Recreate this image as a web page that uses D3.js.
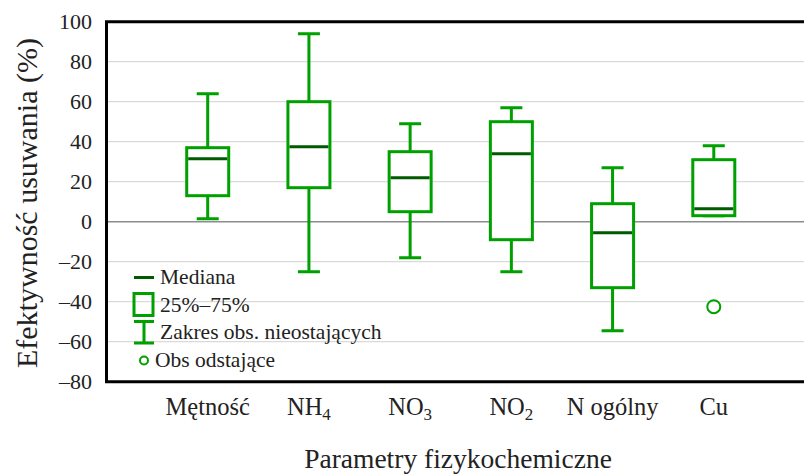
<!DOCTYPE html>
<html>
<head>
<meta charset="utf-8">
<script src="https://cdn.jsdelivr.net/npm/d3@7"></script>
<style>
body { margin: 0; background: #fff; }
text { font-family: "Liberation Serif", "Times New Roman", serif; fill: #222; }
</style>
</head>
<body>
<div id="chart"></div>
<script>
var width = 804,
	height = 476;

// data
var categories = ["Mętność", "NH4", "NO3", "NO2", "N ogólny", "Cu"];
var whiskerLow = [1.5, -25, -18, -25, -54.5, 3];
var q1 = [13, 17, 5, -9, -33, 3];
var median = [31.5, 37.5, 22, 34, -5.5, 6.5];
var q3 = [37, 60, 35, 50, 9, 31];
var whiskerHigh = [64, 94, 49, 57, 27, 38];
var outliers = [{cat: "Cu", value: -42.5}];
var yTicks = [100, 80, 60, 40, 20, 0, -20, -40, -60, -80];

var boxes = categories.map(function(c, i) {
	return {cat: c, lo: whiskerLow[i], q1: q1[i], med: median[i], q3: q3[i], hi: whiskerHigh[i]};
});

var green = "#00a000",
	darkGreen = "#005a00";

var plotLeft = 106.5, plotTop = 21.7, plotBottom = 381.7, plotRight = 815;

var svg = d3.select("#chart").append("svg")
	.attr("width", width)
	.attr("height", height);

var y = d3.scaleLinear()
	.domain([-80, 100])
	.range([plotBottom, plotTop]);

var x = d3.scalePoint()
	.domain(categories)
	.range([plotLeft, plotRight])
	.padding(1);

// gridlines
svg.append("g")
	.selectAll("line")
	.data(yTicks.filter(function(d) { return d != 100 && d != -80; }))
	.enter()
	.append("line")
	.attr("x1", plotLeft)
	.attr("x2", plotRight)
	.attr("y1", function(d) { return y(d); })
	.attr("y2", function(d) { return y(d); })
	.attr("stroke", function(d) { return d == 0 ? "#8c8c8c" : "#dadada"; })
	.attr("stroke-width", function(d) { return d == 0 ? 1.6 : 1.3; });

// y tick labels
svg.append("g")
	.selectAll("text")
	.data(yTicks)
	.enter()
	.append("text")
	.attr("x", 92)
	.attr("y", function(d) { return y(d) + 7.5; })
	.attr("text-anchor", "end")
	.style("font-size", "22px")
	.text(function(d) { return d < 0 ? "–" + Math.abs(d) : d; });

// frame (no right edge, it runs off the picture)
svg.append("path")
	.attr("d", "M" + plotRight + "," + plotTop + "H" + plotLeft + "V" + plotBottom + "H" + plotRight)
	.attr("fill", "none")
	.attr("stroke", "#000")
	.attr("stroke-width", 3);

var boxW = 42, capW = 22;

var g = svg.append("g");

g.selectAll(".whisker")
	.data(boxes)
	.enter()
	.append("path")
	.attr("class", "whisker")
	.attr("d", function(d) {
		var cx = x(d.cat);
		return "M" + cx + "," + y(d.hi) + "V" + y(d.q3) +
			"M" + cx + "," + y(d.q1) + "V" + y(d.lo) +
			"M" + (cx - capW / 2) + "," + y(d.hi) + "h" + capW +
			"M" + (cx - capW / 2) + "," + y(d.lo) + "h" + capW;
	})
	.attr("fill", "none")
	.attr("stroke", green)
	.attr("stroke-width", 3);

g.selectAll(".box")
	.data(boxes)
	.enter()
	.append("rect")
	.attr("class", "box")
	.attr("x", function(d) { return x(d.cat) - boxW / 2; })
	.attr("y", function(d) { return y(d.q3); })
	.attr("width", boxW)
	.attr("height", function(d) { return y(d.q1) - y(d.q3); })
	.attr("fill", "#fff")
	.attr("stroke", green)
	.attr("stroke-width", 3);

g.selectAll(".median")
	.data(boxes)
	.enter()
	.append("line")
	.attr("class", "median")
	.attr("x1", function(d) { return x(d.cat) - boxW / 2 + 1.5; })
	.attr("x2", function(d) { return x(d.cat) + boxW / 2 - 1.5; })
	.attr("y1", function(d) { return y(d.med); })
	.attr("y2", function(d) { return y(d.med); })
	.attr("stroke", darkGreen)
	.attr("stroke-width", 3);

g.selectAll(".outlier")
	.data(outliers)
	.enter()
	.append("circle")
	.attr("class", "outlier")
	.attr("cx", function(d) { return x(d.cat); })
	.attr("cy", function(d) { return y(d.value); })
	.attr("r", 6.5)
	.attr("fill", "none")
	.attr("stroke", green)
	.attr("stroke-width", 2);

// category labels with subscripts
var labels = svg.append("g")
	.selectAll("text")
	.data(categories)
	.enter()
	.append("text")
	.attr("x", function(d) { return x(d); })
	.attr("y", 415)
	.attr("text-anchor", "middle")
	.style("font-size", "24.5px");

labels.each(function(d) {
	var t = d3.select(this);
	var m = d.match(/^([A-Z]+)(\d)$/);
	if (m) {
		t.append("tspan").text(m[1]);
		t.append("tspan").attr("dy", 5).style("font-size", "17px").text(m[2]);
	} else {
		t.text(d);
	}
});

// axis titles
svg.append("text")
	.attr("x", 458)
	.attr("y", 468)
	.attr("text-anchor", "middle")
	.style("font-size", "27.5px")
	.text("Parametry fizykochemiczne");

svg.append("text")
	.attr("transform", "translate(36.5,203) rotate(-90)")
	.attr("text-anchor", "middle")
	.style("font-size", "30px")
	.text("Efektywność usuwania (%)");

// legend
var legend = svg.append("g");
var lx = 134, lw = 20;

legend.append("line")
	.attr("x1", lx).attr("x2", lx + lw)
	.attr("y1", 277.5).attr("y2", 277.5)
	.attr("stroke", darkGreen).attr("stroke-width", 3);

legend.append("rect")
	.attr("x", lx).attr("y", 293.5)
	.attr("width", lw - 1).attr("height", 22)
	.attr("fill", "none").attr("stroke", green).attr("stroke-width", 3);

legend.append("path")
	.attr("d", "M" + lx + ",321.5h" + lw + "M" + lx + ",343h" + lw + "M" + (lx + lw / 2) + ",321.5V343")
	.attr("fill", "none").attr("stroke", green).attr("stroke-width", 3);

legend.append("circle")
	.attr("cx", 144).attr("cy", 360.5).attr("r", 4)
	.attr("fill", "none").attr("stroke", green).attr("stroke-width", 2);

var legendItems = [
	{label: "Mediana", x: 160, y: 284},
	{label: "25%–75%", x: 160, y: 312},
	{label: "Zakres obs. nieostających", x: 160, y: 339},
	{label: "Obs odstające", x: 155, y: 367}
];

legend.selectAll("text")
	.data(legendItems)
	.enter()
	.append("text")
	.attr("x", function(d) { return d.x; })
	.attr("y", function(d) { return d.y; })
	.style("font-size", "21.5px")
	.text(function(d) { return d.label; });
</script>
</body>
</html>
